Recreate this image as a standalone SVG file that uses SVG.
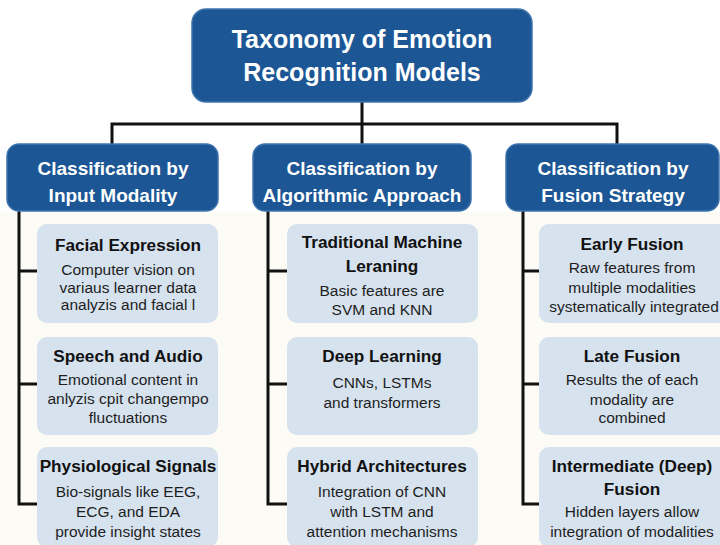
<svg xmlns="http://www.w3.org/2000/svg" width="720" height="545" viewBox="0 0 720 545">
<style>
.bg{fill:#ffffff}
.bg2{fill:#fcfbf5}
.main{fill:#1c5694;stroke:#3f74ad;stroke-width:1.5}
.child{fill:#d6e2ee}
.wt{font-family:"Liberation Sans",Arial,sans-serif;font-weight:bold;fill:#ffffff;text-anchor:middle}
.t0{font-size:25px}
.t1{font-size:19px}
.ct{font-family:"Liberation Sans",Arial,sans-serif;font-weight:bold;font-size:17.2px;fill:#111111;text-anchor:middle}
.cb{font-family:"Liberation Sans",Arial,sans-serif;font-size:15.5px;fill:#1e1e1e;text-anchor:middle}
.ln{fill:none;stroke:#111111;stroke-width:3}
</style>
<rect class="bg" x="0" y="0" width="720" height="545"/>
<rect class="bg2" x="0" y="212" width="720" height="333"/>
<g id="connectors">
<path class="ln" d="M362 102 V124 M112 145 V124 H617 V145 M362 124 V145"/>
<path class="ln" d="M19 210 V504 H37 M19 271 H37 M19 384 H37"/>
<path class="ln" d="M268 210 V504 H287 M268 271 H287 M268 384 H287"/>
<path class="ln" d="M523 210 V504 H540 M523 271 H540 M523 384 H540"/>
</g>
<g id="root">
<rect class="main" x="192" y="9" width="340" height="93" rx="14"/>
<text class="wt t0" x="362" y="48">Taxonomy of Emotion</text>
<text class="wt t0" x="362" y="81">Recognition Models</text>
</g>
<g id="cat-input">
<rect class="main" x="7" y="144" width="211" height="67" rx="12"/>
<text class="wt t1" x="113" y="175">Classification by</text>
<text class="wt t1" x="113" y="202">Input Modality</text>
</g>
<g id="cat-algo">
<rect class="main" x="253" y="144" width="218" height="67" rx="12"/>
<text class="wt t1" x="362" y="175">Classification by</text>
<text class="wt t1" x="362" y="202">Algorithmic Approach</text>
</g>
<g id="cat-fusion">
<rect class="main" x="506" y="144" width="213" height="67" rx="12"/>
<text class="wt t1" x="613" y="175">Classification by</text>
<text class="wt t1" x="613" y="202">Fusion Strategy</text>
</g>
<g id="facial">
<rect class="child" x="37" y="224" width="181" height="99" rx="10"/>
<text class="ct" x="128" y="251">Facial Expression</text>
<text class="cb" x="128" y="275">Computer vision on</text>
<text class="cb" x="128" y="293">variaus learner data</text>
<text class="cb" x="128" y="310">analyzis and facial l</text>
</g>
<g id="speech">
<rect class="child" x="37" y="337" width="181" height="98" rx="10"/>
<text class="ct" x="128" y="362">Speech and Audio</text>
<text class="cb" x="128" y="385">Emotional content in</text>
<text class="cb" x="128" y="404">anlyzis cpit changempo</text>
<text class="cb" x="128" y="423">fluctuations</text>
</g>
<g id="physio">
<rect class="child" x="37" y="447" width="181" height="100" rx="10"/>
<text class="ct" x="128" y="472">Physiological Signals</text>
<text class="cb" x="128" y="497">Bio-signals like EEG,</text>
<text class="cb" x="128" y="517">ECG, and EDA</text>
<text class="cb" x="128" y="537">provide insight states</text>
</g>
<g id="traditional">
<rect class="child" x="287" y="224" width="191" height="99" rx="10"/>
<text class="ct" x="382" y="248">Traditional Machine</text>
<text class="ct" x="382" y="272">Leraning</text>
<text class="cb" x="382" y="296">Basic features are</text>
<text class="cb" x="382" y="315">SVM and KNN</text>
</g>
<g id="deep">
<rect class="child" x="287" y="337" width="191" height="98" rx="10"/>
<text class="ct" x="382" y="362">Deep Learning</text>
<text class="cb" x="382" y="388">CNNs, LSTMs</text>
<text class="cb" x="382" y="408">and transformers</text>
</g>
<g id="hybrid">
<rect class="child" x="287" y="447" width="191" height="100" rx="10"/>
<text class="ct" x="382" y="472">Hybrid Architectures</text>
<text class="cb" x="382" y="497">Integration of CNN</text>
<text class="cb" x="382" y="517">with LSTM and</text>
<text class="cb" x="382" y="537">attention mechanisms</text>
</g>
<g id="early">
<rect class="child" x="539" y="224" width="190" height="99" rx="10"/>
<text class="ct" x="632" y="250">Early Fusion</text>
<text class="cb" x="632" y="273">Raw features from</text>
<text class="cb" x="632" y="293">multiple modalities</text>
<text class="cb" x="634" y="312">systematically integrated</text>
</g>
<g id="late">
<rect class="child" x="539" y="337" width="190" height="98" rx="10"/>
<text class="ct" x="632" y="362">Late Fusion</text>
<text class="cb" x="632" y="385">Results the of each</text>
<text class="cb" x="632" y="405">modality are</text>
<text class="cb" x="632" y="423">combined</text>
</g>
<g id="intermediate">
<rect class="child" x="539" y="447" width="190" height="100" rx="10"/>
<text class="ct" x="632" y="472">Intermediate (Deep)</text>
<text class="ct" x="632" y="495">Fusion</text>
<text class="cb" x="632" y="517">Hidden layers allow</text>
<text class="cb" x="632" y="537">integration of modalities</text>
</g>
</svg>
